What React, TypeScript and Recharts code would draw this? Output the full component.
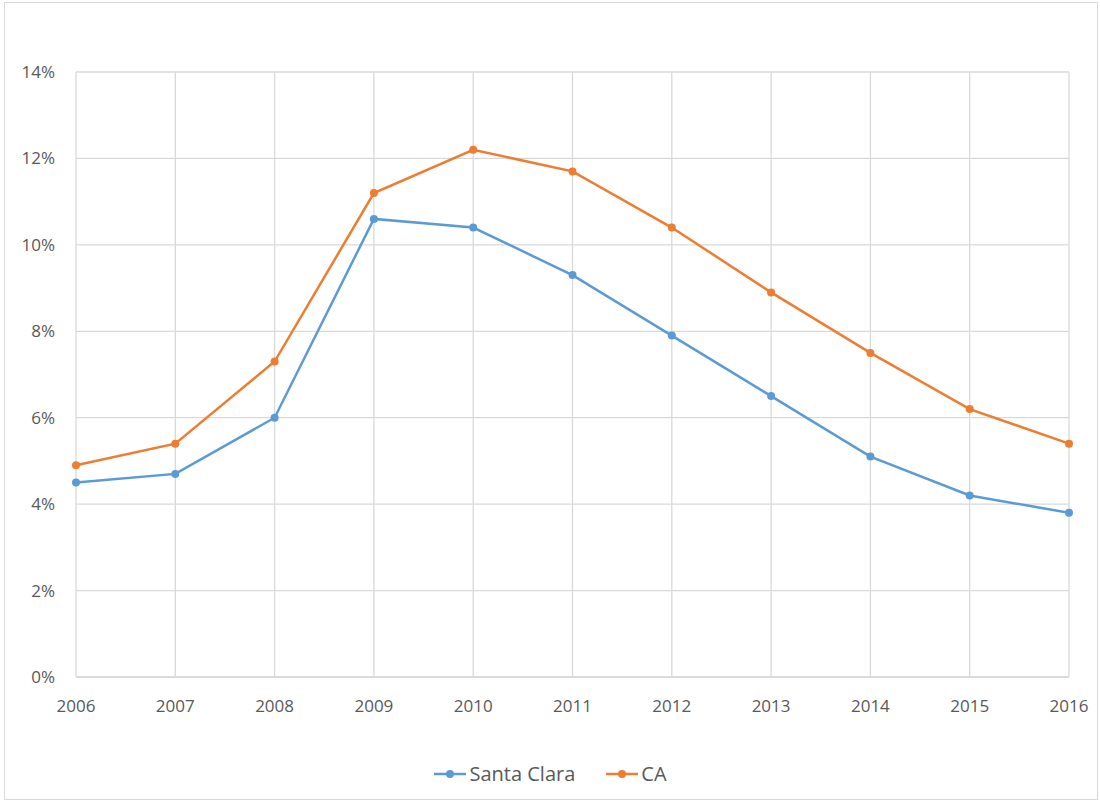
import React from "react";
import { LineChart, Line, XAxis, YAxis, CartesianGrid, Legend } from "recharts";

const years = ["2006", "2007", "2008", "2009", "2010", "2011", "2012", "2013", "2014", "2015", "2016"];
const santaClara = [4.5, 4.7, 6.0, 10.6, 10.4, 9.3, 7.9, 6.5, 5.1, 4.2, 3.8];
const ca = [4.9, 5.4, 7.3, 11.2, 12.2, 11.7, 10.4, 8.9, 7.5, 6.2, 5.4];
const yTicks = [0, 2, 4, 6, 8, 10, 12, 14];
const seriesNames = ["Santa Clara", "CA"];
const colors = ["#5B9BD5", "#ED7D31"];

const data = years.map((y, i) => ({ year: y, sc: santaClara[i], ca: ca[i] }));

const FONT = "'Open Sans', 'Liberation Sans', sans-serif";

const LegendContent = () => (
  <div style={{ display: "flex", justifyContent: "center", alignItems: "center", gap: 30, fontFamily: FONT, fontSize: 20, color: "#595959", height: 27 }}>
    {seriesNames.map((n, i) => (
      <div key={n} style={{ display: "flex", alignItems: "center" }}>
        <svg width={34} height={12} style={{ marginRight: 2 }}>
          <line x1={1} y1={6} x2={33} y2={6} stroke={colors[i]} strokeWidth={2.5} />
          <circle cx={17} cy={6} r={4} fill={colors[i]} />
        </svg>
        <span>{n}</span>
      </div>
    ))}
  </div>
);

export default function App() {
  return (
    <div style={{ position: "absolute", left: 0, top: 0, width: 1100, height: 803, background: "#fff" }}>
      <div style={{ position: "absolute", left: 4, top: 2, width: 1094, height: 798, border: "1px solid #d9d9d9", boxSizing: "border-box", pointerEvents: "none" }} />
      <LineChart width={1100} height={803} data={data} margin={{ top: 72, right: 31, bottom: 0, left: 0 }}>
        <CartesianGrid stroke="#d9d9d9" strokeWidth={1.3} />
        <XAxis
          dataKey="year"
          tickLine={false}
          axisLine={{ stroke: "#d9d9d9", strokeWidth: 1.3 }}
          tickSize={0}
          tickMargin={23}
          height={99}
          tick={{ fill: "#595959", fontSize: 17, fontFamily: FONT }}
          interval={0}
        />
        <YAxis
          domain={[0, 14]}
          ticks={yTicks}
          tickFormatter={(v: number) => `${v}%`}
          tickLine={false}
          axisLine={false}
          tickSize={0}
          tickMargin={21}
          width={76}
          tick={{ fill: "#595959", fontSize: 17, fontFamily: FONT }}
        />
        <Legend content={<LegendContent />} wrapperStyle={{ top: 760, left: 0, width: 1100, height: 27 }} />
        <Line type="linear" dataKey="sc" name={seriesNames[0]} stroke={colors[0]} strokeWidth={2.5} dot={{ r: 4, fill: colors[0], stroke: colors[0], strokeWidth: 0 }} isAnimationActive={false} />
        <Line type="linear" dataKey="ca" name={seriesNames[1]} stroke={colors[1]} strokeWidth={2.5} dot={{ r: 4, fill: colors[1], stroke: colors[1], strokeWidth: 0 }} isAnimationActive={false} />
      </LineChart>
    </div>
  );
}
